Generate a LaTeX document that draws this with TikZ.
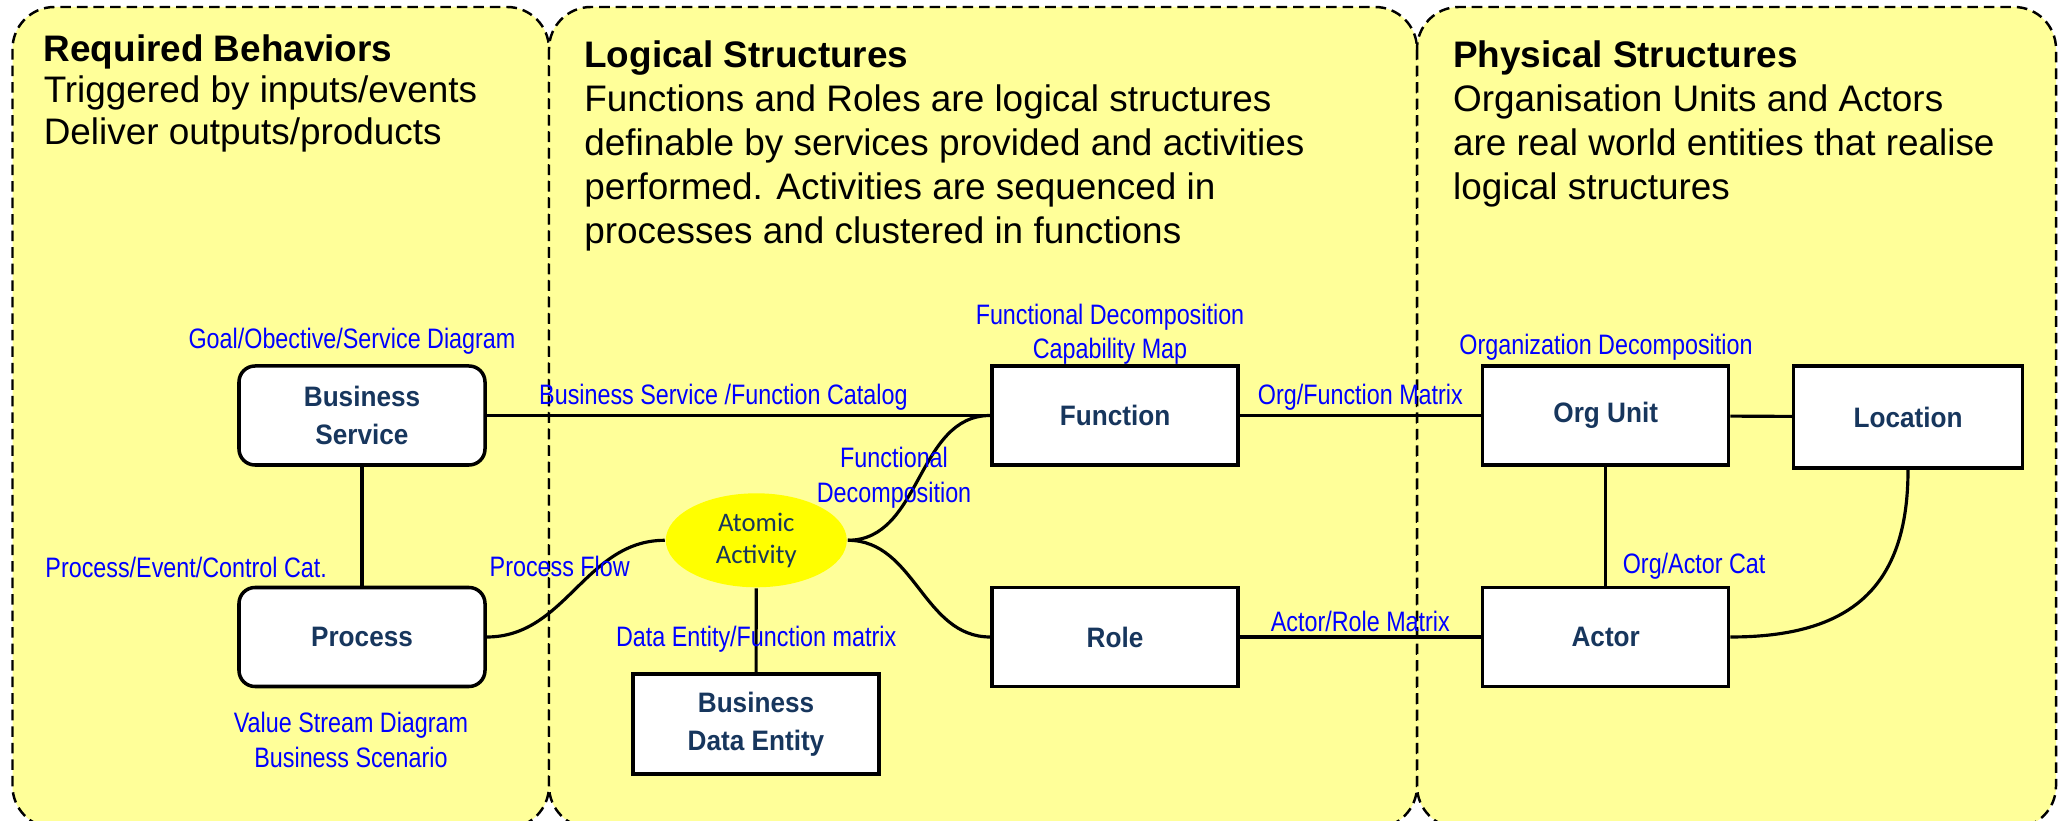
\documentclass[tikz,border=0pt]{standalone}
\usepackage{fontspec}
\setmainfont{Liberation Sans}
\newfontfamily\narrowfont[FakeStretch=0.83]{Liberation Sans}
\newfontfamily\boxfont[FakeStretch=0.93]{Liberation Sans}
\newfontfamily\calfont{Carlito}
\usetikzlibrary{arrows,shapes,positioning}

\definecolor{paneyellow}{HTML}{FFFF99}
\definecolor{boxnavy}{HTML}{17365D}
\definecolor{lblblue}{HTML}{0000FF}
\pgfdeclareradialshading{atomshade}{\pgfpoint{-3bp}{8bp}}{color(0bp)=(yellow); color(34bp)=(yellow); color(50bp)=(yellow!70!black); color(80bp)=(yellow!70!black)}

\begin{document}
\begin{tikzpicture}[semithick,node distance=2.215cm,
		pane/.style={draw,dash pattern=on 3pt off 1.7pt,line width=0.7pt,fill=paneyellow,rounded corners=0.42cm},
		panetext/.style={anchor=north west,align=left,inner sep=0pt,font=\fontsize{10.5}{12.5}\selectfont},
		box/.style={draw,fill=white,line width=1pt,minimum width=2.46cm,minimum height=0.99cm,align=center,text=boxnavy,font=\boxfont\fontsize{8}{10.9}\selectfont\bfseries},
		rbox/.style={box,rounded corners=0.16cm},
		lbl/.style={text=lblblue,inner sep=1pt,align=center,font=\narrowfont\fontsize{8}{9.8}\selectfont},
		link/.style={line width=0.9pt}]

		\useasboundingbox (0,0) rectangle (20.59,-8.21);

		% the three areas
		\draw[pane] (0.125,-0.07) rectangle (5.49,-8.28);
		\draw[pane] (5.49,-0.07) rectangle (14.17,-8.28);
		\draw[pane] (14.17,-0.07) rectangle (20.56,-8.28);

		\node[panetext,font=\fontsize{10.5}{11.8}\selectfont] (ReqText) at (0.427,-0.335) {\textbf{Required Behaviors}\\Triggered by inputs/events\\Deliver outputs/products};
		\node[panetext] (LogText) at (5.833,-0.395) {\textbf{Logical Structures}\\Functions and Roles are logical structures\\definable by services provided and activities\\performed. Activities are sequenced in\\processes and clustered in functions};
		\node[panetext] (PhysText) at (14.52,-0.395) {\textbf{Physical Structures}\\Organisation Units and Actors\\are real world entities that realise\\logical structures};

		% boxes
		\node[rbox] (BS) at (3.62,-4.155) {Business\\Service};
		\node[rbox] (Process) [below of=BS] {Process};
		\node[box] (Function) at (11.15,-4.155) {Function};
		\node[box] (Role) [below of=Function] {Role};
		\node[box] (OrgUnit) at (16.057,-4.155) {Org Unit};
		\node[box] (Actor) [below of=OrgUnit] {Actor};
		\node[box,minimum width=2.29cm,minimum height=1.02cm] (Location) at (19.08,-4.17) {Location};
		\node[ellipse,shading=atomshade,minimum width=1.81cm,minimum height=0.94cm,inner sep=0pt,align=center,text=boxnavy,font=\calfont\fontsize{7.6}{9.2}\selectfont] (Atomic) at (7.563,-5.403) {Atomic\\Activity};
		\node[box,minimum height=1.0cm] (BDE) at (7.56,-7.24) {Business\\Data Entity};

		% diagram names
		\node[lbl] (GoalLbl) at (3.52,-3.41) {Goal/Obective/Service Diagram};
		\node[lbl] (ValueLbl) at (3.51,-7.40) {Value Stream Diagram\\Business Scenario};
		\node[lbl] (FuncLbl) at (11.10,-3.34) {Functional Decomposition\\Capability Map};
		\node[lbl] (OrgLbl) at (16.06,-3.475) {Organization Decomposition};

		% connections
		\path[link]
		(BS) edge node[lbl,above,pos=0.47] {Business Service /Function Catalog} (Function)
		(BS) edge node[lbl,left=0.3cm,pos=0.85] {Process/Event/Control Cat.} (Process)
		(Process) edge[out=0,in=180] node[lbl,pos=0.5,xshift=-0.16cm,yshift=0.22cm] {Process Flow} (Atomic)
		(Atomic) edge[out=0,in=180] node[lbl,pos=0.5,xshift=-0.25cm] {Functional\\Decomposition} (Function)
		(Atomic) edge[out=0,in=180] (Role)
		(Atomic) edge node[lbl,pos=0.61] {Data Entity/Function matrix} (BDE)
		(Function) edge node[lbl,above] {Org/Function Matrix} (OrgUnit)
		(Role) edge node[lbl,above] {Actor/Role Matrix} (Actor)
		(OrgUnit) edge (Location)
		(OrgUnit) edge node[lbl,right=0.12cm,pos=0.84] {Org/Actor Cat} (Actor)
		(Location) edge[out=-90,in=0,looseness=1.25] (Actor);
	\end{tikzpicture}
\end{document}
